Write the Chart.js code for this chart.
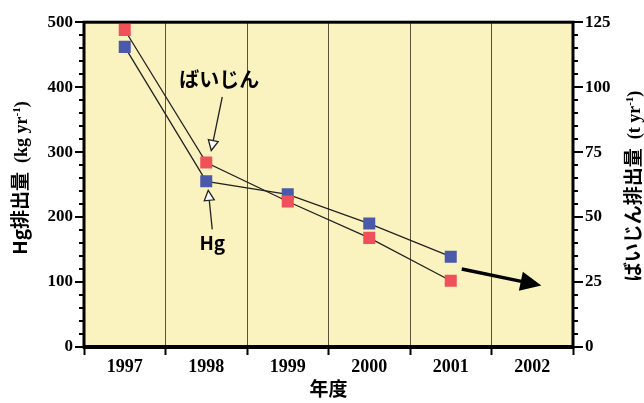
<!DOCTYPE html>
<html>
<head>
<meta charset="utf-8">
<script src="https://cdn.jsdelivr.net/npm/chart.js@4.4.0/dist/chart.umd.min.js"></script>
<style>
html, body { margin: 0; padding: 0; background: #fff; }
#wrap { width: 644px; height: 403px; }
</style>
</head>
<body>
<div id="wrap"><canvas id="chart" width="644" height="403"></canvas></div>
<script>
// データ
const years = ['1997', '1998', '1999', '2000', '2001', '2002'];
const hg = [462, 255, 235, 190, 139, null];        // Hg排出量 (kg/yr) 左軸
const baijin = [122, 71, 56, 42, 25.5, null];      // ばいじん排出量 (t/yr) 右軸
const leftTicks = [0, 100, 200, 300, 400, 500];
const rightTicks = [0, 25, 50, 75, 100, 125];
const trend = [30, 24];                            // 2001→2002 の矢印 (t/yr)

const RED = '#ef5059', BLUE = '#4a59a9', BG = '#faf3bf', GRID = '#5b5236';
const JP = '"Noto Sans CJK JP", "Noto Sans", sans-serif';
const SERIF = '"Liberation Serif", "DejaVu Serif", serif';

// 回転した文字列を複数フォントで描く
function drawRuns(ctx, parts, cx, cy, rot) {
    ctx.save();
    ctx.translate(cx, cy);
    ctx.rotate(rot);
    let total = 0;
    parts.forEach(p => { ctx.font = p[1]; total += ctx.measureText(p[0]).width; });
    let x = -total / 2;
    ctx.textBaseline = 'alphabetic';
    ctx.textAlign = 'left';
    ctx.fillStyle = '#000';
    parts.forEach(p => {
        ctx.font = p[1];
        ctx.fillText(p[0], x, 7 + (p[2] || 0));
        x += ctx.measureText(p[0]).width;
    });
    ctx.restore();
}

function arrow(ctx, x1, y1, x2, y2, L, W, fill) {
    const a = Math.atan2(y2 - y1, x2 - x1);
    const bx = x2 - L * Math.cos(a), by = y2 - L * Math.sin(a);
    ctx.beginPath(); ctx.moveTo(x1, y1); ctx.lineTo(bx, by); ctx.stroke();
    ctx.beginPath();
    ctx.moveTo(x2, y2);
    ctx.lineTo(bx + W * Math.sin(a), by - W * Math.cos(a));
    ctx.lineTo(bx - W * Math.sin(a), by + W * Math.cos(a));
    ctx.closePath();
    ctx.fillStyle = fill;
    ctx.fill();
    ctx.stroke();
}

const decor = {
    id: 'decor',
    beforeDraw(chart) {
        const { ctx, chartArea: a } = chart;
        ctx.save();
        ctx.fillStyle = BG;
        ctx.fillRect(a.left, a.top, a.right - a.left, a.bottom - a.top);
        ctx.restore();
    },
    afterDraw(chart) {
        const { ctx, chartArea: a } = chart;
        const xs = chart.scales.x, yl = chart.scales.y, yr = chart.scales.y1;
        ctx.save();
        // 目盛り
        ctx.strokeStyle = '#000';
        ctx.lineWidth = 2;
        for (let v = 0; v <= 500; v += 20) {
            const p = Math.round(yl.getPixelForValue(v));
            const len = v % 100 === 0 ? 9 : 5;
            ctx.beginPath(); ctx.moveTo(a.left, p); ctx.lineTo(a.left - len, p); ctx.stroke();
        }
        for (let v = 0; v <= 125; v += 5) {
            const p = Math.round(yr.getPixelForValue(v));
            const len = v % 25 === 0 ? 10 : 5;
            ctx.beginPath(); ctx.moveTo(a.right, p); ctx.lineTo(a.right + len, p); ctx.stroke();
        }
        // 枠
        ctx.lineWidth = 3;
        ctx.strokeRect(a.left, a.top, a.right - a.left, a.bottom - a.top);
        ctx.lineWidth = 4;
        ctx.beginPath(); ctx.moveTo(a.left - 1, a.bottom); ctx.lineTo(a.right + 1, a.bottom); ctx.stroke();

        // 注記
        const x98 = xs.getPixelForValue(1);
        const pr = yr.getPixelForValue(baijin[1]);
        const pb = yl.getPixelForValue(hg[1]);
        ctx.fillStyle = '#000';
        ctx.textAlign = 'center';
        ctx.textBaseline = 'middle';
        ctx.font = 'bold 20px ' + JP;
        ctx.fillText('ばいじん', x98 + 13, 79);
        ctx.font = 'bold 19px ' + JP;
        ctx.fillText('Hg', x98 + 6, pb + 61);
        ctx.strokeStyle = '#222';
        ctx.lineWidth = 1.3;
        arrow(ctx, x98 + 16, 97, x98 + 5, pr - 12, 10, 5, '#fff');
        arrow(ctx, x98 + 6, pb + 48, x98 + 2, pb + 9, 10, 5, '#fff');

        // 2002 への矢印
        ctx.strokeStyle = '#000';
        ctx.lineWidth = 3.5;
        arrow(ctx, xs.getPixelForValue(4) + 11, yr.getPixelForValue(trend[0]),
              xs.getPixelForValue(5) + 5, yr.getPixelForValue(trend[1]), 15, 7, '#000');

        // 軸タイトル
        const t1 = [['Hg排出量', 'bold 19px ' + JP], ['  (kg yr', 'bold 18px ' + SERIF],
                    ['-1', 'bold 11px ' + SERIF, -7], [')', 'bold 18px ' + SERIF]];
        drawRuns(ctx, t1, 20, 178, -Math.PI / 2);
        const t2 = [['ばいじん排出量', 'bold 19px ' + JP], ['  (t yr', 'bold 18px ' + SERIF],
                    ['-1', 'bold 11px ' + SERIF, -7], [')', 'bold 18px ' + SERIF]];
        drawRuns(ctx, t2, 633, 186, -Math.PI / 2);
        ctx.font = 'bold 19px ' + JP;
        ctx.textAlign = 'center';
        ctx.textBaseline = 'middle';
        ctx.fillText('年度', (a.left + a.right) / 2, 389);
        ctx.restore();
    }
};

const ctx = document.getElementById('chart').getContext('2d');
new Chart(ctx, {
    type: 'line',
    data: {
        labels: years,
        datasets: [{
            label: 'ばいじん',
            data: baijin,
            yAxisID: 'y1',
            borderColor: '#222',
            borderWidth: 1.3,
            pointStyle: 'rect',
            pointRadius: 8.5,
            pointBackgroundColor: RED,
            pointBorderColor: RED,
            pointBorderWidth: 0,
            tension: 0
        }, {
            label: 'Hg',
            data: hg,
            yAxisID: 'y',
            borderColor: '#222',
            borderWidth: 1.3,
            pointStyle: 'rect',
            pointRadius: 8.5,
            pointBackgroundColor: BLUE,
            pointBorderColor: BLUE,
            pointBorderWidth: 0,
            tension: 0
        }]
    },
    options: {
        responsive: false,
        animation: false,
        layout: { padding: { top: 19, left: 0, right: 0, bottom: 0 } },
        plugins: { legend: { display: false }, tooltip: { enabled: false } },
        scales: {
            x: {
                offset: true,
                grid: { offset: true, color: GRID, lineWidth: 1, drawTicks: true, tickLength: 8, tickColor: '#000', tickWidth: 2 },
                border: { display: false },
                ticks: { color: '#000', padding: 2, font: { family: SERIF, size: 18, weight: 'bold' } },
                afterFit(s) { s.height = 56; }
            },
            y: {
                position: 'left',
                min: 0, max: 500,
                afterBuildTicks(s) { s.ticks = leftTicks.map(v => ({ value: v })); },
                grid: { display: false, drawTicks: false },
                border: { display: false },
                ticks: { color: '#000', padding: 11, font: { family: SERIF, size: 17, weight: 'bold' } },
                afterFit(s) { s.width = 84; }
            },
            y1: {
                position: 'right',
                min: 0, max: 125,
                afterBuildTicks(s) { s.ticks = rightTicks.map(v => ({ value: v })); },
                grid: { display: false, drawTicks: false },
                border: { display: false },
                ticks: { color: '#000', padding: 12, font: { family: SERIF, size: 17, weight: 'bold' } },
                afterFit(s) { s.width = 71; }
            }
        }
    },
    plugins: [decor]
});
</script>
</body>
</html>
